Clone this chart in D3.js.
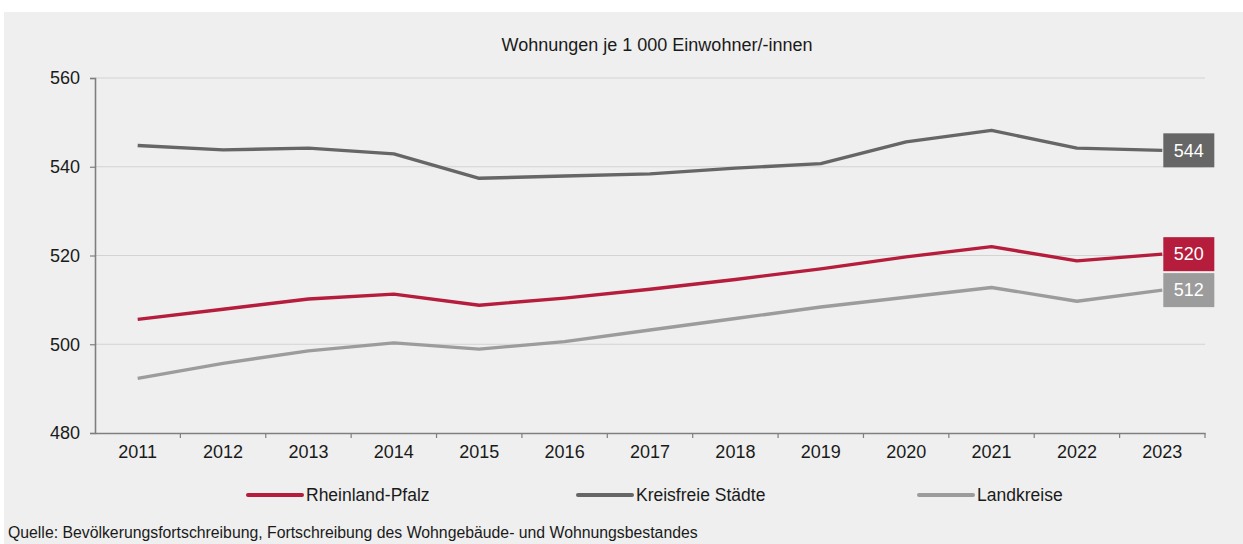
<!DOCTYPE html>
<html><head><meta charset="utf-8">
<script src="https://cdn.jsdelivr.net/npm/d3@7"></script>
<style>
html,body{margin:0;padding:0;background:#fff;}
svg{display:block;font-family:"Liberation Sans",Arial,sans-serif;}
</style></head>
<body><svg id="c" width="1243" height="544"></svg>
<script>
const years = ["2011","2012","2013","2014","2015","2016","2017","2018","2019","2020","2021","2022","2023"];
const rheinlandPfalz = [505.6,507.9,510.2,511.3,508.8,510.4,512.4,514.6,517.0,519.7,522.0,518.8,520.3];
const kreisfreieStaedte = [544.8,543.8,544.2,542.9,537.4,537.9,538.4,539.7,540.7,545.6,548.2,544.2,543.7];
const landkreise = [492.3,495.7,498.5,500.3,498.9,500.6,503.2,505.8,508.4,510.6,512.8,509.7,512.2];
const seriesNames = ["Rheinland-Pfalz","Kreisfreie Städte","Landkreise"];
const endLabels = ["520","544","512"];
const yTicks = [480,500,520,540,560];
const title = "Wohnungen je 1 000 Einwohner/-innen";
const source = "Quelle: Bevölkerungsfortschreibung, Fortschreibung des Wohngebäude- und Wohnungsbestandes";

const colors = ["#b61c3c","#666666","#9c9c9c"];
const seriesValues = [rheinlandPfalz, kreisfreieStaedte, landkreise];

const svg = d3.select("#c");
svg.append("rect").attr("x",4).attr("y",12).attr("width",1239).attr("height",532).attr("fill","#eeefee");

const x = d3.scaleBand().domain(years).range([95,1205]).padding(0);
const y = d3.scaleLinear().domain([480,560]).range([433,78]);

// gridlines
svg.append("g").selectAll("line").data(yTicks.filter(t=>t>480)).join("line")
  .attr("x1",95).attr("x2",1205).attr("y1",d=>y(d)).attr("y2",d=>y(d))
  .attr("stroke","#d2d3d2").attr("stroke-width",1.2);

// y axis
const yAxis = svg.append("g").attr("transform","translate(95,0)")
  .call(d3.axisLeft(y).tickValues(yTicks).tickSize(5).tickPadding(10).tickFormat(d3.format("d")));
yAxis.select(".domain").attr("stroke","#7f7f7f").attr("stroke-width",1.6);
yAxis.selectAll(".tick line").attr("stroke","#7f7f7f").attr("stroke-width",1.2);
yAxis.selectAll("text").attr("font-size",18).attr("fill","#1a1a1a").attr("font-family","Liberation Sans, Arial, sans-serif");

// x axis
const xAxis = svg.append("g").attr("transform","translate(0,433)")
  .call(d3.axisBottom(x).tickSize(0).tickPadding(12));
xAxis.select(".domain").attr("stroke","#7f7f7f").attr("stroke-width",1.6);
xAxis.selectAll("text").attr("font-size",18).attr("fill","#1a1a1a").attr("font-family","Liberation Sans, Arial, sans-serif");
// boundary ticks
const bounds = years.map(d=>x(d)).concat([x(years[years.length-1])+x.bandwidth()]).slice(1);
svg.append("g").selectAll("line").data(bounds).join("line")
  .attr("x1",d=>d).attr("x2",d=>d).attr("y1",433).attr("y2",438)
  .attr("stroke","#7f7f7f").attr("stroke-width",1.2);

// lines
const line = d3.line().x((d,i)=>x(years[i])+x.bandwidth()/2).y(d=>y(d));
seriesValues.forEach((vals,k)=>{
  svg.append("path").datum(vals).attr("d",line).attr("fill","none")
    .attr("stroke",colors[k]).attr("stroke-width",3.4).attr("stroke-linejoin","round");
});

// end labels
const lastX = x(years[years.length-1])+x.bandwidth()/2;
seriesValues.forEach((vals,k)=>{
  const cy = y(vals[vals.length-1]);
  const g = svg.append("g");
  g.append("rect").attr("x",lastX+1).attr("y",cy-17).attr("width",51).attr("height",34).attr("fill",colors[k]);
  g.append("text").attr("x",lastX+1+25.5).attr("y",cy).attr("dy","0.35em")
    .attr("text-anchor","middle").attr("fill","#fff").attr("font-size",18).text(endLabels[k]);
});

// title
svg.append("text").attr("x",657).attr("y",51).attr("text-anchor","middle")
  .attr("font-size",18).attr("fill","#1a1a1a").text(title);

// legend
const legX = [248,578,919];
seriesNames.forEach((n,k)=>{
  svg.append("line").attr("x1",legX[k]).attr("x2",legX[k]+54).attr("y1",495).attr("y2",495)
    .attr("stroke",colors[k]).attr("stroke-width",4).attr("stroke-linecap","round");
  svg.append("text").attr("x",legX[k]+58).attr("y",501).attr("font-size",17.5)
    .attr("fill","#1a1a1a").text(n);
});

// source
svg.append("text").attr("x",8).attr("y",538).attr("font-size",15.8).attr("fill","#1a1a1a").text(source);
</script></body></html>
